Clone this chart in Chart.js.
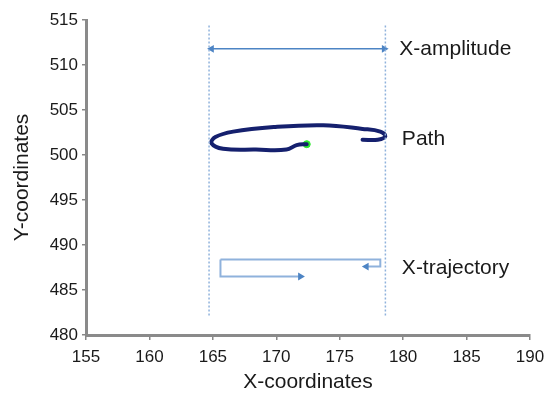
<!DOCTYPE html>
<html>
<head>
<meta charset="utf-8">
<script src="https://cdn.jsdelivr.net/npm/chart.js@4"></script>
<style>
  html, body { margin: 0; padding: 0; background: #fff; }
  #wrap { width: 546px; height: 399px; }
</style>
</head>
<body>
<div id="wrap"><canvas id="chart" width="546" height="399"></canvas></div>
<script>
//Path traced by the point (navy line)
const pathX = [172.4, 171.6, 170.8, 168.4, 165.8, 164.9, 165.2, 166.6, 169.8, 173.7, 176.8, 178.2, 178.6, 178.0, 176.8];
const pathY = [501.2, 501.1, 500.6, 500.6, 500.7, 501.3, 502.0, 502.6, 503.1, 503.3, 502.9, 502.6, 502.1, 501.7, 501.7];
//Starting point (green dot)
const startX = [172.4];
const startY = [501.2];
//Dotted amplitude limits
const limitX = [164.7, 178.6];
const limitY = [514.4, 482.1];
//X-amplitude double arrow
const ampX = [164.9, 178.5];
const ampY = [511.8, 511.8];
//X-trajectory arrows
const trajTopX = [165.6, 178.2, 178.2, 177.1];
const trajTopY = [488.4, 488.4, 487.6, 487.6];
const trajBotX = [165.6, 165.6, 171.9];
const trajBotY = [488.4, 486.5, 486.5];
//Annotation labels
const labels = ['X-amplitude', 'Path', 'X-trajectory'];
const labelX = [179.7, 179.9, 179.9];
const labelY = [511.8, 501.7, 487.4];

const pts = (xs, ys) => xs.map((x, i) => ({ x: x, y: ys[i] }));
const arrowBlue = '#4d84c4';
const dotBlue = '#8fb2dc';

//only last point of a line gets a triangle (arrowhead)
const lastOnly = (r) => (ctx) => ctx.dataIndex === ctx.dataset.data.length - 1 ? r : 0;

const datasets = [
  {
    data: [{ x: limitX[0], y: limitY[0] }, { x: limitX[0], y: limitY[1] }],
    showLine: true, borderColor: dotBlue, borderWidth: 1.5, borderDash: [2, 2], pointRadius: 0
  },
  {
    data: [{ x: limitX[1], y: limitY[0] }, { x: limitX[1], y: limitY[1] }],
    showLine: true, borderColor: dotBlue, borderWidth: 1.5, borderDash: [2, 2], pointRadius: 0
  },
  {
    data: pts(ampX, ampY),
    showLine: true, borderColor: arrowBlue, borderWidth: 1.5,
    pointStyle: 'triangle', pointRadius: 4.5, pointRotation: [270, 90],
    pointBackgroundColor: arrowBlue, pointBorderColor: arrowBlue, pointBorderWidth: 0
  },
  {
    data: pts(trajTopX, trajTopY),
    showLine: true, borderColor: dotBlue, borderWidth: 2,
    pointStyle: 'triangle', pointRadius: lastOnly(4.5), pointRotation: 270,
    pointBackgroundColor: arrowBlue, pointBorderColor: arrowBlue, pointBorderWidth: 0
  },
  {
    data: pts(trajBotX, trajBotY),
    showLine: true, borderColor: dotBlue, borderWidth: 2,
    pointStyle: 'triangle', pointRadius: lastOnly(4.5), pointRotation: 90,
    pointBackgroundColor: arrowBlue, pointBorderColor: arrowBlue, pointBorderWidth: 0
  },
  {
    data: pts(pathX, pathY),
    showLine: true, borderColor: '#15206e', borderWidth: 4, tension: 0.4,
    borderCapStyle: 'round', pointRadius: 0
  },
  {
    data: pts(startX, startY),
    pointRadius: 3.5, pointBackgroundColor: '#2ee82e', pointBorderColor: '#2ee82e'
  }
];

//Draw the annotation texts at data positions
const textPlugin = {
  id: 'texts',
  afterDatasetsDraw(chart) {
    const c = chart.ctx;
    const xs = chart.scales.x, ys = chart.scales.y;
    c.save();
    c.font = '21px "Liberation Sans", Arial, sans-serif';
    c.fillStyle = '#1a1a1a';
    c.textBaseline = 'middle';
    c.textAlign = 'left';
    labels.forEach((t, i) => {
      c.fillText(t, xs.getPixelForValue(labelX[i]), ys.getPixelForValue(labelY[i]));
    });
    c.restore();
  }
};

const tickFont = { family: '"Liberation Sans", Arial, sans-serif', size: 17 };
const titleFont = { family: '"Liberation Sans", Arial, sans-serif', size: 21 };

new Chart(document.getElementById('chart'), {
  type: 'scatter',
  data: { datasets: datasets },
  plugins: [textPlugin],
  options: {
    responsive: false,
    animation: false,
    layout: { padding: { left: 0, top: 20, right: 16, bottom: 0 } },
    plugins: { legend: { display: false }, tooltip: { enabled: false } },
    scales: {
      x: {
        type: 'linear', min: 155, max: 190,
        afterFit: (s) => { s.height = 64; s.paddingLeft = 0; s.paddingRight = 0; },
        ticks: { stepSize: 5, color: '#1a1a1a', font: tickFont, padding: 7 },
        grid: { drawOnChartArea: false, drawTicks: true, tickLength: 5, color: '#888', lineWidth: 1.5 },
        border: { color: '#8a8a8a', width: 3 },
        title: { display: true, text: 'X-coordinates', color: '#1a1a1a', font: titleFont, padding: { top: 4, bottom: 4 } }
      },
      y: {
        type: 'linear', min: 480, max: 515,
        afterFit: (s) => { s.width = 86; },
        ticks: { stepSize: 5, color: '#1a1a1a', font: tickFont, padding: 4 },
        grid: { drawOnChartArea: false, drawTicks: true, tickLength: 4, color: '#888', lineWidth: 1.5 },
        border: { color: '#8a8a8a', width: 3 },
        title: { display: true, text: 'Y-coordinates', color: '#1a1a1a', font: titleFont, padding: { top: 10, bottom: 4 } }
      }
    }
  }
});
</script>
</body>
</html>
